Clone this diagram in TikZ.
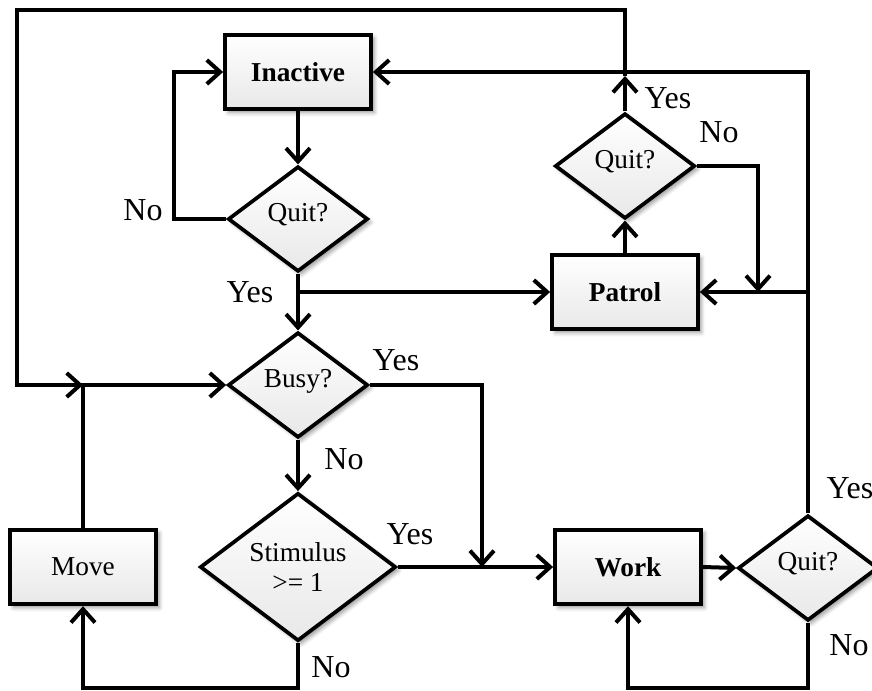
\documentclass[tikz,border=0pt]{standalone}
\usepackage{fontspec}
\setmainfont{Liberation Serif}
\usetikzlibrary{shapes.geometric,arrows.meta,shadows.blur}

% decision text sits a little above the diamond's middle
\newcommand\dtext[1]{\smash{\raisebox{-1.5pt}{#1}}}

\begin{document}
\begin{tikzpicture}[x=0.75pt,y=-0.75pt,
  shaded/.style={draw=black, line width=2.8pt, top color=white, bottom color=black!9,
    blur shadow={shadow xshift=2.5pt, shadow yshift=-2.5pt, shadow blur radius=3pt, shadow opacity=40},
    font=\fontsize{20.5}{23}\selectfont, inner sep=0pt, align=center},
  procbox/.style={shaded, rectangle, minimum width=109.5pt, minimum height=56pt},
  decision/.style={shaded, diamond, minimum width=105pt, minimum height=79pt},
  bigdecision/.style={shaded, diamond, minimum width=147pt, minimum height=111pt},
  conn/.style={draw=black, line width=3pt, line join=miter},
  arr/.style={conn, -{Straight Barb[length=10pt,width=18pt]}},
  lab/.style={font=\fontsize{24}{28}\selectfont, inner sep=0pt}]

\useasboundingbox (0,0) rectangle (872,690);

% processes and decisions
\node[procbox] (inactive) at (298,72) {\textbf{Inactive}};
\node[decision] (quitA) at (298,219) {\dtext{Quit?}};
\node[decision] (busy) at (298,385) {\dtext{Busy?}};
\node[bigdecision] (stim) at (298,567) {Stimulus\\>= 1};
\node[procbox] (move) at (83,567) {Move};
\node[procbox] (work) at (628,567) {\textbf{Work}};
\node[decision] (quitC) at (808,568) {\dtext{Quit?}};
\node[procbox] (patrol) at (625,292) {\textbf{Patrol}};
\node[decision] (quitB) at (625,166) {\dtext{Quit?}};

% helper points for the routing
\coordinate (yesB) at (625,76);
\coordinate (joinP) at (758,292);
\coordinate (joinW) at (482,567);
\coordinate (bottomline) at (0,688);
\coordinate (topline) at (0,10);
\coordinate (leftline) at (17,0);

% connectors
\draw[arr] (inactive) -- (quitA);
\draw[arr] (quitA.west) -- ++(-52,0) |- (inactive.west);
\draw[arr] (quitA.south) -- (busy.north);
\draw[arr] (quitA.south |- patrol.west) -- (patrol.west);
\draw[arr] (patrol.north) -- (quitB.south);
\draw[arr] (quitB.east) -| (joinP);
\draw[arr] (quitB.north) -- (yesB);
\draw[arr] (quitC.north) |- (inactive.east);
\draw[arr] (quitC.north |- patrol.east) -- (patrol.east);
\draw[arr] (yesB) -- (yesB |- topline) -| (leftline |- busy.west) -- (move.north |- busy.west);
\draw[arr] (move.north) |- (busy.west);
\draw[arr] (busy.south) -- (stim.north);
\draw[arr] (busy.east) -| (joinW);
\draw[arr] (stim.east) -- (work.west);
\draw[arr] (stim.south) -- (stim.south |- bottomline) -| (move.south);
\draw[arr] (work.east) -- (quitC.west);
\draw[arr] (quitC.south) -- (quitC.south |- bottomline) -| (work.south);

% branch labels
\node[lab] (lnoA) at (143,210) {No};
\node[lab] (lyesA) at (250,292) {Yes};
\node[lab] (lyesB) at (668,98) {Yes};
\node[lab] (lnoB) at (719,132) {No};
\node[lab] (lyesBusy) at (396,360) {Yes};
\node[lab] (lnoBusy) at (344,459) {No};
\node[lab] (lyesStim) at (410,534) {Yes};
\node[lab] (lnoStim) at (331,667) {No};
\node[lab] (lyesC) at (850,488) {Yes};
\node[lab] (lnoC) at (849,645) {No};
\end{tikzpicture}
\end{document}
